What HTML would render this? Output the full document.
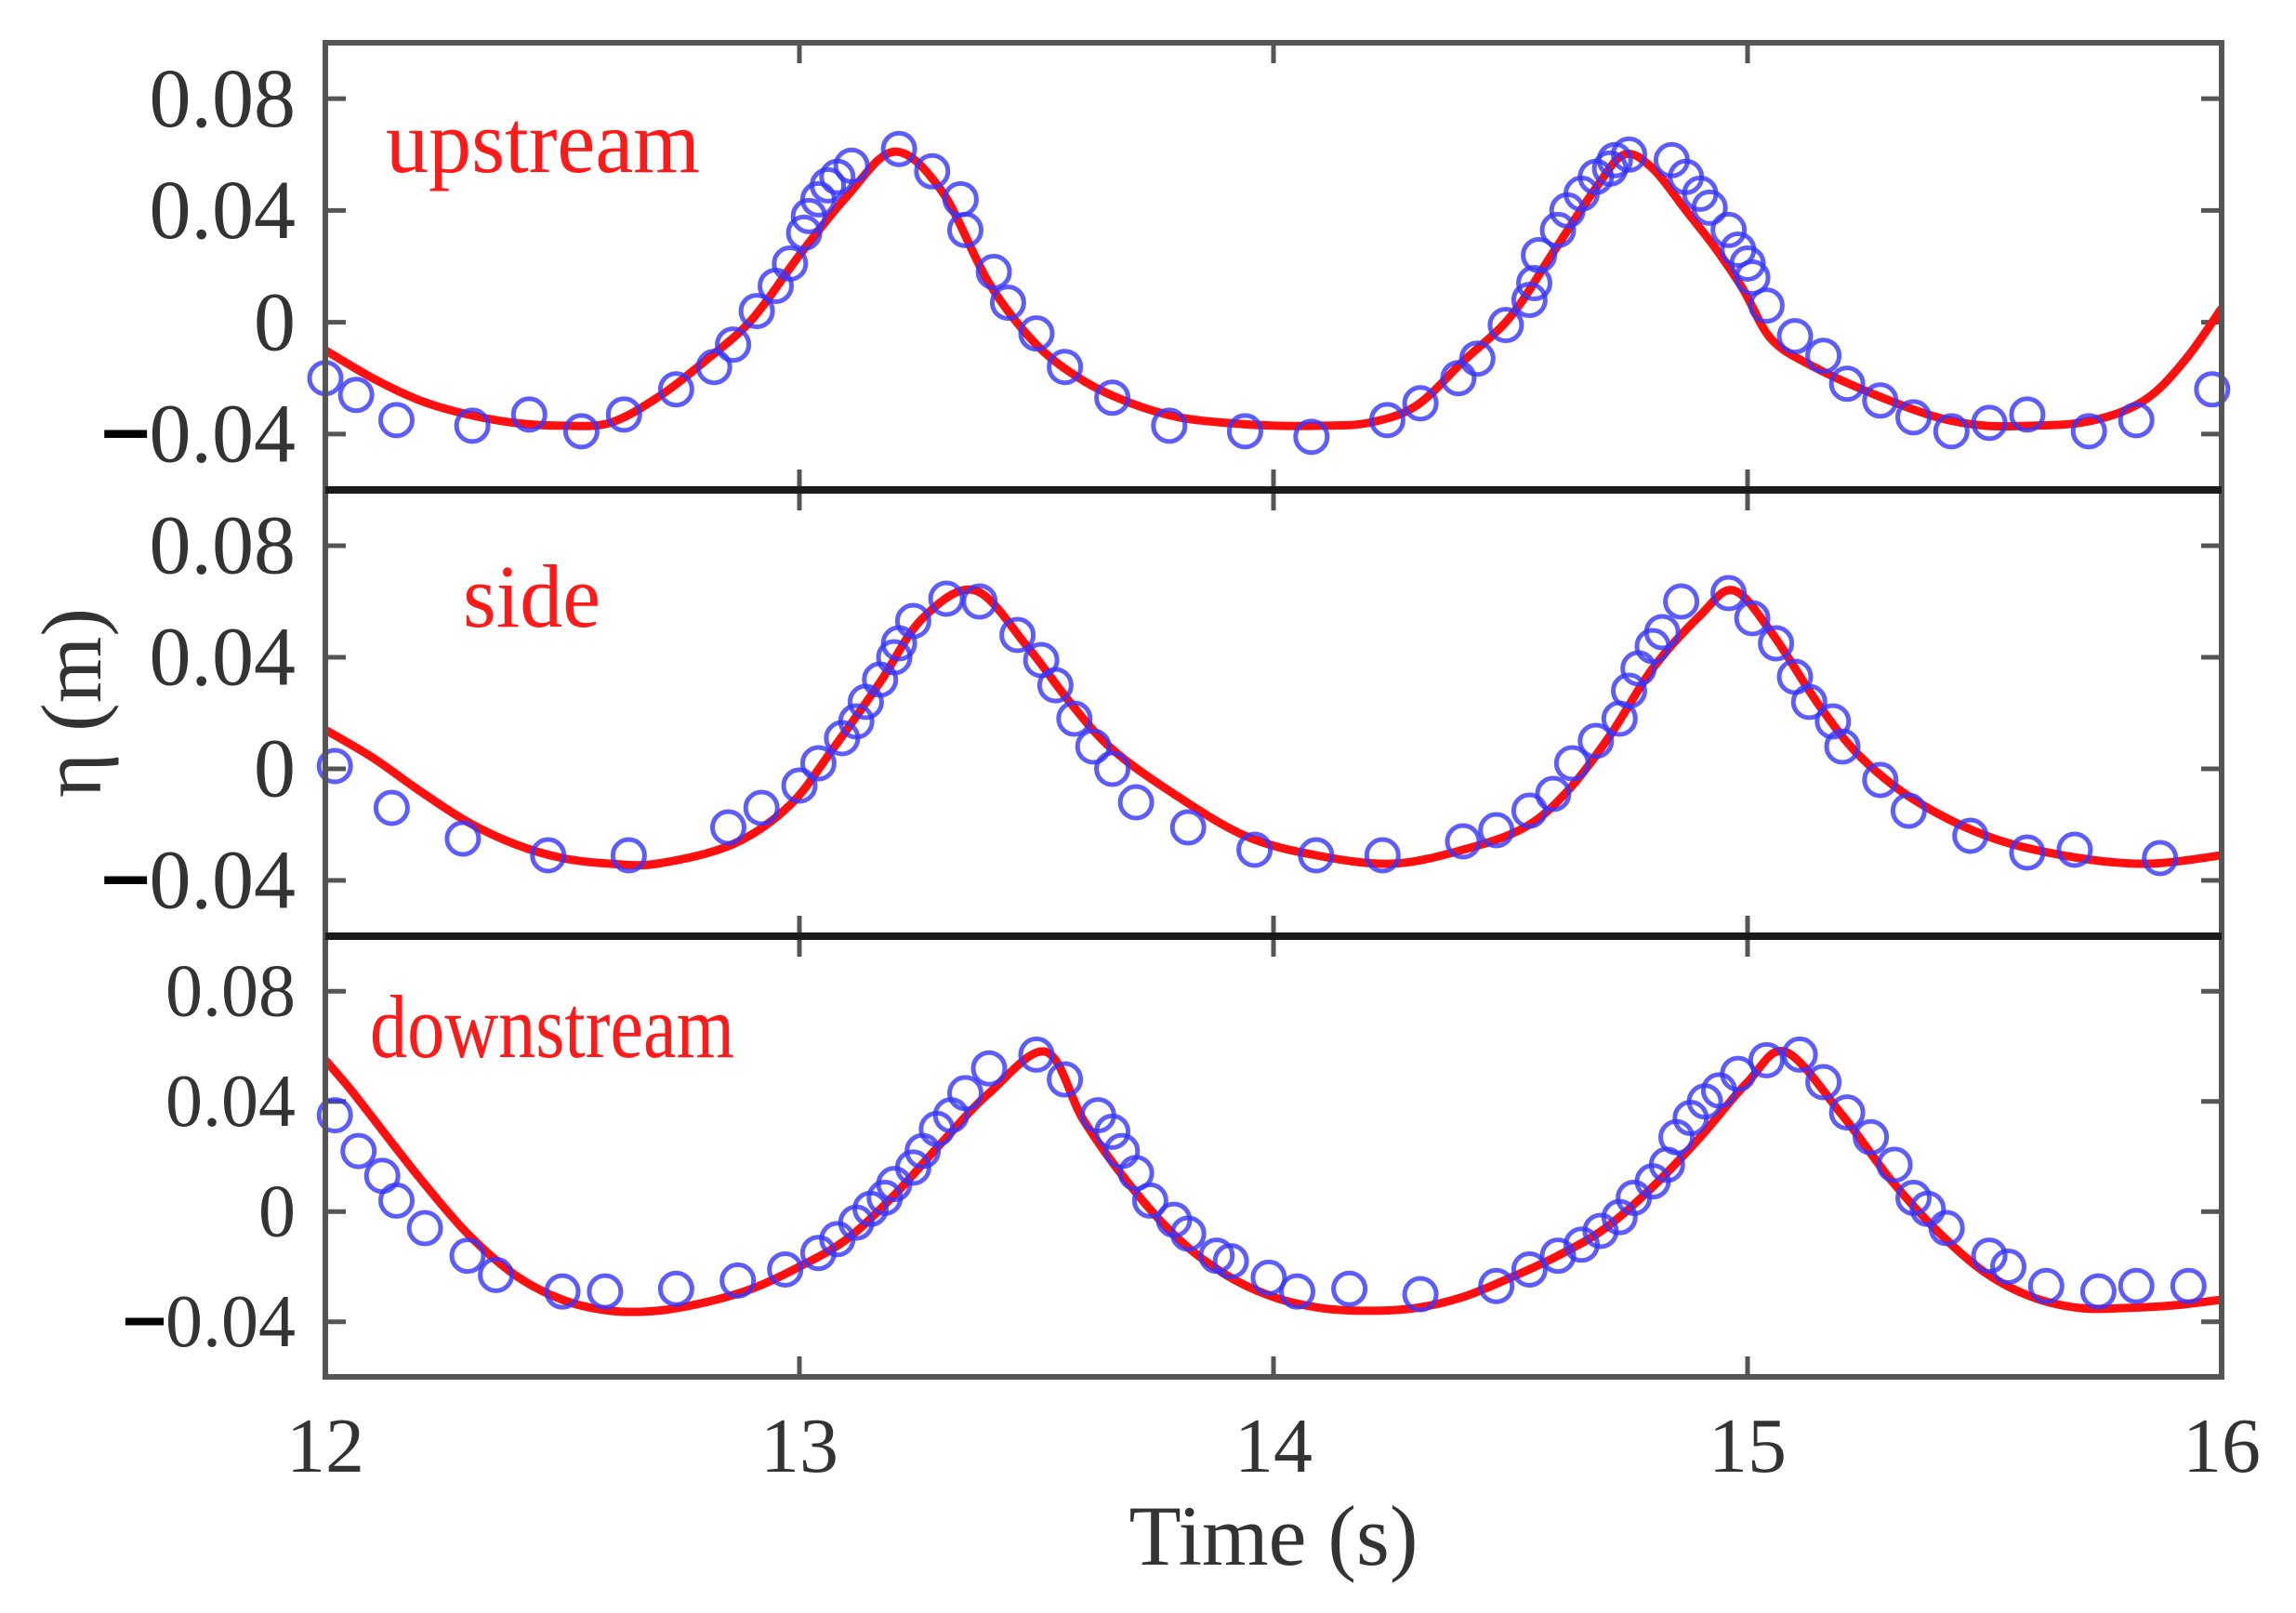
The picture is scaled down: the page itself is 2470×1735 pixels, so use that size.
<!DOCTYPE html>
<html><head><meta charset="utf-8"><style>
html,body{margin:0;padding:0;background:#fff;}
svg{display:block;font-family:"Liberation Serif",serif;}
</style></head><body>
<svg id="chart" width="2470" height="1735" viewBox="0 0 2470 1735" xmlns="http://www.w3.org/2000/svg">
<rect x="0" y="0" width="2470" height="1735" fill="#fff"/>
</svg>
<script>
// ---- data ----
const xTicks = [12, 13, 14, 15, 16];
const yTicks = [0.08, 0.04, 0, -0.04];
const yTickLabels = ["0.08", "0.04", "0", "0.04"];
const yTickNeg = [false, false, false, true];
const panelNames = ["upstream", "side", "downstream"];

const upRedT = [12.0,12.1,12.2,12.3,12.4,12.5,12.6,12.7,12.8,12.9,13.0,13.1,13.2,13.3,13.4,13.5,13.6,13.7,13.8,13.9,14.0,14.1,14.2,14.3,14.4,14.5,14.59,14.68,14.74,14.8,14.87,14.93,14.99,15.05,15.14,15.27,15.4,15.5,15.6,15.7,15.79,15.86,15.93,16.0];
const upRedEta = [-0.010,-0.020,-0.028,-0.033,-0.036,-0.037,-0.036,-0.027,-0.014,0.001,0.024,0.045,0.061,0.047,0.014,-0.008,-0.021,-0.029,-0.034,-0.036,-0.037,-0.037,-0.036,-0.030,-0.014,0.002,0.025,0.048,0.060,0.055,0.040,0.027,0.012,-0.006,-0.016,-0.026,-0.034,-0.037,-0.037,-0.036,-0.032,-0.025,-0.012,0.005];
const upObsT = [12.00,12.065,12.15,12.31,12.43,12.54,12.63,12.74,12.82,12.86,12.91,12.95,12.98,13.01,13.02,13.04,13.06,13.08,13.11,13.21,13.28,13.34,13.35,13.41,13.44,13.50,13.56,13.66,13.78,13.94,14.08,14.24,14.31,14.39,14.43,14.49,14.54,14.55,14.56,14.60,14.62,14.65,14.68,14.71,14.72,14.75,14.84,14.87,14.90,14.92,14.96,14.98,15.00,15.01,15.04,15.10,15.16,15.21,15.28,15.35,15.43,15.51,15.59,15.72,15.82,15.98];
const upObsEta = [-0.020,-0.026,-0.035,-0.037,-0.033,-0.039,-0.033,-0.024,-0.016,-0.008,0.004,0.013,0.021,0.032,0.038,0.044,0.049,0.052,0.056,0.062,0.054,0.044,0.033,0.018,0.007,-0.004,-0.016,-0.027,-0.037,-0.039,-0.041,-0.035,-0.029,-0.020,-0.013,-0.001,0.008,0.014,0.024,0.033,0.040,0.046,0.052,0.055,0.058,0.060,0.058,0.052,0.046,0.041,0.033,0.026,0.021,0.016,0.006,-0.005,-0.012,-0.022,-0.028,-0.034,-0.039,-0.036,-0.033,-0.039,-0.035,-0.024];

const sideRedT = [12.0,12.1,12.2,12.3,12.4,12.5,12.6,12.7,12.86,12.98,13.07,13.17,13.26,13.37,13.48,13.57,13.66,13.79,13.94,14.09,14.25,14.40,14.53,14.62,14.71,14.80,14.90,14.97,15.05,15.15,15.24,15.36,15.52,15.70,15.85,16.0];
const sideRedEta = [0.014,0.004,-0.008,-0.019,-0.027,-0.032,-0.034,-0.034,-0.027,-0.013,0.007,0.031,0.054,0.064,0.044,0.024,0.007,-0.009,-0.024,-0.031,-0.034,-0.029,-0.021,-0.008,0.012,0.036,0.055,0.064,0.049,0.023,0.004,-0.012,-0.025,-0.032,-0.034,-0.031];
const sideObsT = [12.02,12.14,12.29,12.47,12.64,12.85,12.92,13.00,13.04,13.09,13.12,13.14,13.17,13.20,13.21,13.24,13.31,13.38,13.46,13.51,13.54,13.58,13.62,13.66,13.71,13.82,13.96,14.09,14.23,14.40,14.47,14.54,14.59,14.63,14.68,14.73,14.75,14.77,14.80,14.82,14.86,14.96,15.01,15.06,15.10,15.13,15.18,15.20,15.28,15.34,15.47,15.59,15.69,15.87];
const sideObsEta = [0.001,-0.014,-0.025,-0.031,-0.031,-0.021,-0.014,-0.006,0.002,0.011,0.017,0.024,0.032,0.040,0.045,0.053,0.061,0.060,0.048,0.039,0.030,0.018,0.008,0.000,-0.012,-0.021,-0.029,-0.031,-0.031,-0.026,-0.022,-0.015,-0.009,0.002,0.010,0.018,0.028,0.036,0.044,0.049,0.060,0.063,0.054,0.045,0.033,0.024,0.017,0.008,-0.004,-0.015,-0.024,-0.030,-0.029,-0.032];

const downRedT = [12.0,12.05,12.1,12.2,12.3,12.4,12.5,12.6,12.7,12.8,12.9,13.0,13.1,13.2,13.3,13.4,13.52,13.6,13.7,13.8,13.9,14.0,14.1,14.2,14.3,14.4,14.5,14.6,14.7,14.8,14.9,15.0,15.08,15.2,15.3,15.4,15.5,15.6,15.7,15.8,15.9,16.0];
const downRedEta = [0.055,0.045,0.034,0.012,-0.008,-0.023,-0.032,-0.036,-0.036,-0.033,-0.028,-0.020,-0.010,0.006,0.025,0.043,0.058,0.033,0.009,-0.010,-0.023,-0.031,-0.035,-0.036,-0.035,-0.031,-0.024,-0.016,-0.006,0.009,0.027,0.047,0.058,0.035,0.012,-0.007,-0.022,-0.031,-0.035,-0.035,-0.034,-0.032];
const downObsT = [12.02,12.07,12.12,12.15,12.21,12.30,12.36,12.50,12.59,12.74,12.87,12.97,13.04,13.08,13.12,13.15,13.18,13.20,13.24,13.26,13.29,13.32,13.35,13.40,13.50,13.56,13.63,13.66,13.68,13.71,13.74,13.79,13.82,13.88,13.91,13.99,14.05,14.16,14.31,14.47,14.54,14.60,14.65,14.69,14.73,14.76,14.80,14.83,14.85,14.88,14.91,14.94,14.98,15.04,15.11,15.16,15.21,15.26,15.31,15.35,15.38,15.42,15.51,15.55,15.63,15.74,15.82,15.93];
const downObsEta = [0.035,0.022,0.013,0.004,-0.006,-0.016,-0.023,-0.029,-0.029,-0.028,-0.025,-0.021,-0.015,-0.010,-0.004,0.001,0.005,0.010,0.016,0.022,0.030,0.035,0.043,0.052,0.057,0.048,0.035,0.029,0.022,0.014,0.004,-0.003,-0.008,-0.016,-0.018,-0.024,-0.029,-0.028,-0.030,-0.027,-0.021,-0.016,-0.012,-0.007,-0.002,0.005,0.011,0.017,0.027,0.034,0.040,0.044,0.050,0.055,0.057,0.047,0.036,0.027,0.017,0.005,0.001,-0.006,-0.016,-0.020,-0.027,-0.029,-0.027,-0.027];

// ---- layout ----
const NS = "http://www.w3.org/2000/svg";
const svg = document.getElementById("chart");
const X0 = 350, X1 = 2390;
const tops = [46, 527, 1007], bots = [527, 1007, 1481];
const yMin = -0.06, yMax = 0.10;
const xs = t => X0 + (t - 12) / 4 * (X1 - X0);
const ysF = p => v => tops[p] + (yMax - v) / (yMax - yMin) * (bots[p] - tops[p]);

function mk(tag, attrs, parent) {
  const e = document.createElementNS(NS, tag);
  for (const k in attrs) e.setAttribute(k, attrs[k]);
  (parent || svg).appendChild(e);
  return e;
}
function smoothPath(pts) {
  let d = "M" + pts[0][0].toFixed(1) + "," + pts[0][1].toFixed(1);
  for (let i = 0; i < pts.length - 1; i++) {
    const p0 = pts[Math.max(0, i - 1)], p1 = pts[i], p2 = pts[i + 1], p3 = pts[Math.min(pts.length - 1, i + 2)];
    const c1x = p1[0] + (p2[0] - p0[0]) / 6, c1y = p1[1] + (p2[1] - p0[1]) / 6;
    const c2x = p2[0] - (p3[0] - p1[0]) / 6, c2y = p2[1] - (p3[1] - p1[1]) / 6;
    d += " C" + c1x.toFixed(1) + "," + c1y.toFixed(1) + " " + c2x.toFixed(1) + "," + c2y.toFixed(1) + " " + p2[0].toFixed(1) + "," + p2[1].toFixed(1);
  }
  return d;
}

const redT = [upRedT, sideRedT, downRedT];
const redEta = [upRedEta, sideRedEta, downRedEta];
const obsT = [upObsT, sideObsT, downObsT];
const obsEta = [upObsEta, sideObsEta, downObsEta];
const labelPos = [[415, 185, 338], [498, 674, 148], [398, 1137, 392]];
const tickFont = [90, 90, 80];

for (let p = 0; p < 3; p++) {
  const ys = ysF(p);
  const g = mk("g", {});
  
  
  const cp = mk("clipPath", { id: "clip" + p }, g);
  mk("rect", { x: X0, y: tops[p], width: X1 - X0, height: bots[p] - tops[p] }, cp);
  yTicks.forEach((v, i) => {
    const yy = ys(v);
    const tl = mk("line", { x1: X0, x2: X0 + 22, y1: yy, y2: yy, stroke: "#555", "stroke-width": 5 }, g);
    
    
    const tr = mk("line", { x1: X1 - 22, x2: X1, y1: yy, y2: yy, stroke: "#555", "stroke-width": 5 }, g);
    
    
    const lab = mk("text", { x: 318, y: yy + tickFont[p] * 0.33, "text-anchor": "end", "font-size": tickFont[p], fill: "#333" }, g);
    if (yTickNeg[i]) {
      const m = mk("tspan", { fill: "#000", stroke: "#000", "stroke-width": 4, dx: 0 }, lab);
      m.textContent = "\u2212";
      const r = mk("tspan", {}, lab);
      r.textContent = yTickLabels[i];
    } else {
      lab.textContent = yTickLabels[i];
    }
    
    
  });
  xTicks.forEach(t => {
    const xx = xs(t);
    const a = mk("line", { x1: xx, x2: xx, y1: tops[p], y2: tops[p] + 22, stroke: "#555", "stroke-width": 5 }, g);
    
    
    const b = mk("line", { x1: xx, x2: xx, y1: bots[p] - 22, y2: bots[p], stroke: "#555", "stroke-width": 5 }, g);
    
    
  });
  const pts = redT[p].map((t, i) => [xs(t), ys(redEta[p][i])]);
  const line = mk("path", { d: smoothPath(pts), fill: "none", stroke: "#ff1010", "stroke-width": 9, "stroke-linejoin": "round", "clip-path": "url(#clip" + p + ")" }, g);
  
  
  obsT[p].forEach((t, i) => {
    const c = mk("circle", { cx: xs(t), cy: ys(obsEta[p][i]), r: 17, fill: "none", stroke: "#3535ff", "stroke-opacity": 0.8, "stroke-width": 5 }, g);
    
    
  });
  const lp = labelPos[p];
  const pl = mk("text", { x: lp[0], y: lp[1], "font-size": 96, fill: "#ff1a1a", textLength: lp[2], lengthAdjust: "spacingAndGlyphs" }, g);
  pl.textContent = panelNames[p];
  
  
}

const fr = mk("rect", { x: X0, y: tops[0], width: X1 - X0, height: bots[2] - tops[0], fill: "none", stroke: "#555", "stroke-width": 6 });


[bots[0], bots[1]].forEach(yy => {
  const d = mk("line", { x1: X0, x2: X1, y1: yy, y2: yy, stroke: "#1a1a1a", "stroke-width": 8 });
  
  
});

xTicks.forEach(t => {
  const l = mk("text", { x: xs(t), y: 1583, "text-anchor": "middle", "font-size": 84, fill: "#333" });
  l.textContent = String(t);
  
  
});
const xt = mk("text", { x: 1370, y: 1683, "text-anchor": "middle", "font-size": 92, fill: "#333" });
xt.textContent = "Time (s)";


const yt = mk("text", { x: 0, y: 0, "text-anchor": "middle", "font-size": 92, fill: "#333", transform: "translate(108,756) rotate(-90)" });
yt.textContent = "η (m)";


</script>
</body></html>
